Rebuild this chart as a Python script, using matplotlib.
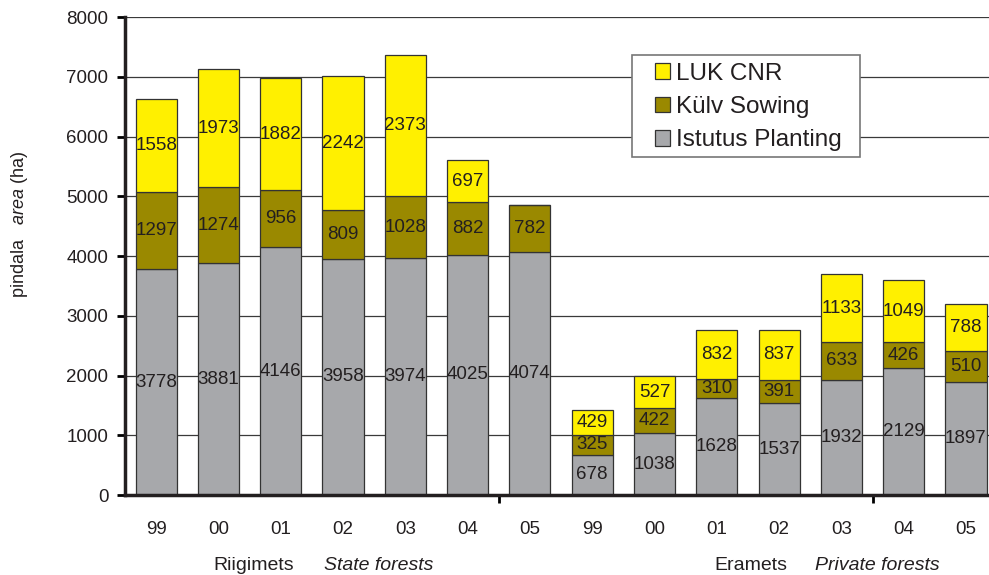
import numpy as np
from matplotlib import pyplot as plt
from matplotlib.patches import Patch, Rectangle

# years / categories, state forests first then private forests
years = ['99', '00', '01', '02', '03', '04', '05',
         '99', '00', '01', '02', '03', '04', '05']
planting = [3778, 3881, 4146, 3958, 3974, 4025, 4074,
            678, 1038, 1628, 1537, 1932, 2129, 1897]
sowing = [1297, 1274, 956, 809, 1028, 882, 782,
          325, 422, 310, 391, 633, 426, 510]
luk = [1558, 1973, 1882, 2242, 2373, 697, 0,
       429, 527, 832, 837, 1133, 1049, 788]
series_names = ['Istutus Planting', 'Külv Sowing', 'LUK CNR']
colors = ['#a7a8ab', '#9a8900', '#fff000']

plt.rcParams['font.family'] = ['Liberation Sans', 'DejaVu Sans']
plt.rcParams['mathtext.fontset'] = 'custom'
plt.rcParams['mathtext.it'] = 'Liberation Sans:italic'
plt.rcParams['mathtext.rm'] = 'Liberation Sans'
txtcol = '#231f20'

fig = plt.figure(figsize=(9.89, 5.75), dpi=100)
ax = fig.add_axes([0.1264, 0.139, 0.8736, 0.831])

x = np.arange(len(years))
bottom = np.zeros(len(years))
for vals, name, c in zip([planting, sowing, luk], series_names, colors):
    vals = np.array(vals)
    ax.bar(x, vals, 0.66, bottom=bottom, color=c, edgecolor='#333333',
           linewidth=0.9, zorder=2, label=name)
    for xi, b, v in zip(x, bottom, vals):
        if v > 0:
            ax.text(xi, b + v / 2, str(v), ha='center', va='center',
                    fontsize=13.5, color=txtcol, zorder=3)
    bottom += vals

ax.set_ylim(0, 8000)
ax.set_xlim(-0.5, 13.37)
ax.set_yticks(np.arange(0, 8001, 1000))
ax.yaxis.grid(True, color='#3a3a3a', linewidth=0.9, zorder=0)
ax.set_axisbelow(True)
for s in ['top', 'right']:
    ax.spines[s].set_visible(False)
for s in ['left', 'bottom']:
    ax.spines[s].set_linewidth(2.5)
    ax.spines[s].set_color('#231f20')
ax.tick_params(axis='y', direction='out', length=6, width=2, labelsize=13.5,
               labelcolor=txtcol, pad=6)
ax.set_xticks(x)
ax.set_xticklabels(years)
ax.tick_params(axis='x', which='major', length=0, labelsize=13.5,
               labelcolor=txtcol, pad=19)
ax.set_xticks([5.5, 11.5], minor=True)
ax.tick_params(axis='x', which='minor', length=6, width=2, direction='out')

# legend box drawn separately so the padding matches
box = Rectangle((0.5868, 0.7071), 0.2639, 0.2134, transform=ax.transAxes,
                facecolor='white', edgecolor='#777777', linewidth=1.2,
                zorder=4)
ax.add_patch(box)
handles = [Patch(facecolor=c, edgecolor='#333333', linewidth=0.9)
           for c in colors[::-1]]
leg = ax.legend(handles, series_names[::-1], loc='upper left',
                bbox_to_anchor=(0.6134, 0.905), borderaxespad=0,
                fontsize=17.5, frameon=False, handlelength=0.6,
                handleheight=0.6, handletextpad=0.25, borderpad=0,
                labelspacing=0.47)
leg.set_zorder(5)
for t in leg.get_texts():
    t.set_color(txtcol)

fig.text(20 / 989, 0.61, r'pindala   $\it{area}$ (ha)', rotation=90,
         ha='center', va='center', fontsize=13, color=txtcol)
fig.text(254 / 989, 1 - 565 / 575, 'Riigimets', ha='center', va='center',
         fontsize=14, color=txtcol)
fig.text(324 / 989, 1 - 565 / 575, 'State forests', ha='left', va='center',
         fontsize=14, style='italic', color=txtcol)
fig.text(751 / 989, 1 - 565 / 575, 'Eramets', ha='center', va='center',
         fontsize=14, color=txtcol)
fig.text(815 / 989, 1 - 565 / 575, 'Private forests', ha='left', va='center',
         fontsize=14, style='italic', color=txtcol)

fig.savefig('out.png', dpi=100)
